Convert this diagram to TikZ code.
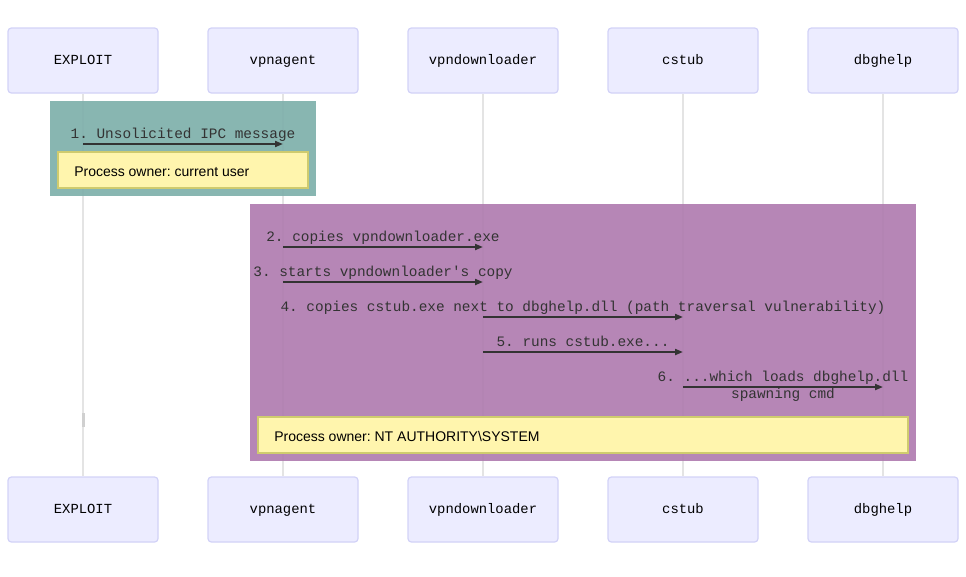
\documentclass[tikz,border=0pt]{standalone}
\usepackage{fontspec}
\setmainfont{Liberation Sans}
\newfontfamily\monof{Liberation Mono}
\usetikzlibrary{arrows.meta}
\frenchspacing
\definecolor{actfill}{HTML}{ECECFF}
\definecolor{actdraw}{HTML}{D2D2F7}
\definecolor{lifeln}{HTML}{E4E4E4}
\definecolor{lifemark}{HTML}{D0D0D0}
\definecolor{tealbg}{HTML}{7FB0AB}
\definecolor{purpbg}{HTML}{B07DB0}
\definecolor{notefill}{HTML}{FFF5AD}
\definecolor{notedraw}{HTML}{CFCB6E}
\definecolor{txt}{HTML}{333333}
\tikzset{
  actor/.style={draw=actdraw, fill=actfill, line width=0.9pt, rounded corners=2.5pt,
    minimum width=112.5pt, minimum height=48.75pt, inner sep=0pt,
    text height=7.5pt, text depth=2.2pt,
    font=\monof\fontsize{10.4}{12}\selectfont, text=black},
  lifeline/.style={draw=lifeln, line width=1.4pt},
  msg/.style={draw=txt, line width=1.4pt, -{Triangle[length=6pt,width=4.5pt]}},
  msgtext/.style={font=\monof\fontsize{10.8}{12.75}\selectfont, text=txt, inner sep=0pt, anchor=base},
  notebox/.style={draw=notedraw, fill=notefill, line width=0.8pt},
  notetext/.style={font=\fontsize{10.5}{12}\selectfont, text=black, inner sep=0pt, anchor=base west}
}
\begin{document}
\begin{tikzpicture}[x=0.75pt, y=-0.75pt]
\useasboundingbox (0,0) rectangle (966,576);
% actors
\node[actor] (a1) at (83,60.5) {EXPLOIT};
\node[actor] (a2) at (283,60.5) {vpnagent};
\node[actor] (a3) at (483,60.5) {vpndownloader};
\node[actor] (a4) at (683,60.5) {cstub};
\node[actor] (a5) at (883,60.5) {dbghelp};
\node[actor] (b1) at (83,509.5) {EXPLOIT};
\node[actor] (b2) at (283,509.5) {vpnagent};
\node[actor] (b3) at (483,509.5) {vpndownloader};
\node[actor] (b4) at (683,509.5) {cstub};
\node[actor] (b5) at (883,509.5) {dbghelp};
% lifelines
\foreach \i in {1,...,5} {
  \draw[lifeline] (a\i.south) -- (b\i.north);
}
\fill[lifemark] (81.5,413) rectangle (84.5,427);
% group rectangles
\fill[tealbg, fill opacity=0.93] (50,101) rectangle (316,196);
\fill[purpbg, fill opacity=0.93] (250,204) rectangle (916,461);
% notes
\draw[notebox] (58,152) rectangle (308,188);
\node[notetext] (n1) at (74,176) {Process owner: current user};
\draw[notebox] (258,417) rectangle (908,453);
\node[notetext] (n2) at (274,441) {Process owner: NT AUTHORITY\textbackslash SYSTEM};
% messages
\node[msgtext] (t1) at (183,138) {1. Unsolicited IPC message};
\draw[msg] (a1 |- 0,144) -- (a2 |- 0,144);
\node[msgtext] (t2) at (383,241) {2. copies vpndownloader.exe};
\draw[msg] (a2 |- 0,247) -- (a3 |- 0,247);
\node[msgtext] (t3) at (383,276) {3. starts vpndownloader's copy};
\draw[msg] (a2 |- 0,282) -- (a3 |- 0,282);
\node[msgtext] (t4) at (583,311) {4. copies cstub.exe next to dbghelp.dll (path traversal vulnerability)};
\draw[msg] (a3 |- 0,317) -- (a4 |- 0,317);
\node[msgtext] (t5) at (583,346) {5. runs cstub.exe...};
\draw[msg] (a3 |- 0,352) -- (a4 |- 0,352);
\node[msgtext] (t6) at (783,381) {6. ...which loads dbghelp.dll};
\node[msgtext] (t6b) at (783,398) {spawning cmd};
\draw[msg] (a4 |- 0,387) -- (a5 |- 0,387);
\end{tikzpicture}
\end{document}
